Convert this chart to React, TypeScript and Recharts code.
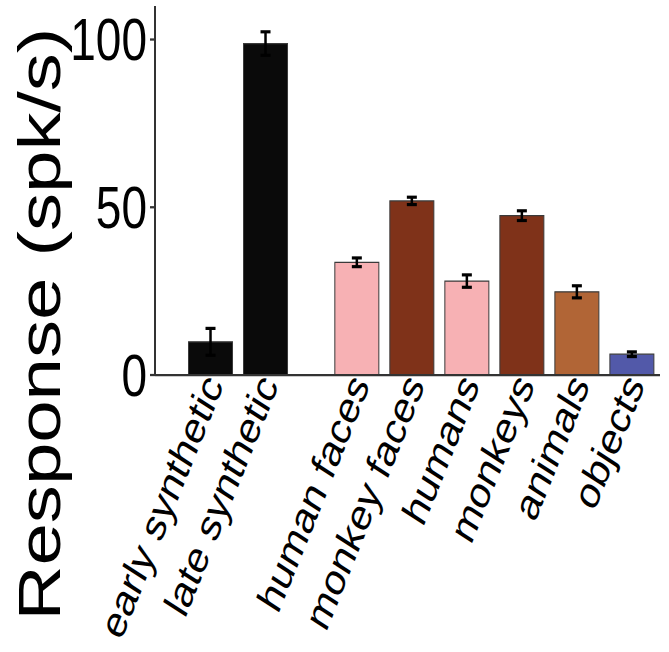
import { BarChart, Bar, XAxis, YAxis, Cell, ErrorBar } from 'recharts';

// two stimulus groups, drawn with a gap between them
const syntheticLabels = ['early synthetic', 'late synthetic'];
const syntheticResponse = [9.9, 98.8];
const syntheticError = [4.0, 3.5];

const naturalLabels = ['human faces', 'monkey faces', 'humans', 'monkeys', 'animals', 'objects'];
const naturalResponse = [33.6, 51.9, 28.0, 47.5, 24.8, 6.2];
const naturalError = [1.3, 1.1, 1.85, 1.45, 1.8, 0.7];

const yTicks = [0, 50, 100];

const syntheticColors = ['#0a0a0a', '#0a0a0a'];
const naturalColors = ['#f7b1b4', '#7f3219', '#f7b1b4', '#7f3219', '#b16536', '#5259a9'];

const GROUP_GAP = 0.66;
const STRETCH = 1.27; // the figure is taller than it is wide in its text
const FONT = '"Liberation Sans", Arial, Helvetica, sans-serif';

const rows = [
  ...syntheticLabels.map((name, i) => ({
    name,
    pos: i + 1,
    value: syntheticResponse[i],
    err: syntheticError[i],
    color: syntheticColors[i],
  })),
  ...naturalLabels.map((name, i) => ({
    name,
    pos: syntheticLabels.length + 1 + GROUP_GAP + i,
    value: naturalResponse[i],
    err: naturalError[i],
    color: naturalColors[i],
  })),
];

function XTick(props: any) {
  const { x, y, payload } = props;
  const row = rows.find((r) => r.pos === payload.value);
  return (
    <g transform={`translate(${x + 14},${y + 8})`}>
      <text transform="rotate(-63)" textAnchor="end" fontSize={35.5} fontFamily={FONT} fill="#000">
        {row ? row.name : ''}
      </text>
    </g>
  );
}

function YLabel(props: any) {
  const vb = props.viewBox || { x: 0, y: 0, width: 0, height: 0 };
  const cx = vb.x + 60;
  const cy = vb.y + vb.height - 40;
  return (
    <text
      transform={`translate(${cx},${cy}) rotate(-90)`}
      textAnchor="middle"
      fontSize={60}
      fontFamily={FONT}
      fill="#000"
    >
      Response (spk/s)
    </text>
  );
}

export default function App() {
  const height = 652 / STRETCH;
  return (
    <div style={{ position: 'absolute', left: 0, top: 0, width: 669, height: 652, background: '#fff', overflow: 'hidden' }}>
      <div style={{ width: 669, height, transform: `scaleY(${STRETCH})`, transformOrigin: 'top left' }}>
        <BarChart width={669} height={height} data={rows} margin={{ top: 4.7, right: 9, bottom: 0, left: 0 }}>
          <XAxis
            type="number"
            dataKey="pos"
            domain={[0, 9.18]}
            ticks={rows.map((r) => r.pos)}
            interval={0}
            height={height - 295.3}
            tick={(p: any) => <XTick {...p} />}
            tickLine={false}
            tickSize={0}
            tickMargin={0}
            axisLine={{ stroke: '#333', strokeWidth: 1.8 }}
          />
          <YAxis
            domain={[0, 110]}
            ticks={yTicks}
            width={155}
            tick={{ fontSize: 46, fill: '#000', fontFamily: FONT }}
            tickSize={5}
            tickMargin={3}
            tickLine={{ stroke: '#333', strokeWidth: 1.8 }}
            axisLine={{ stroke: '#333', strokeWidth: 2 }}
            label={{ value: 'Response (spk/s)', content: (p: any) => <YLabel {...p} /> }}
          />
          <Bar dataKey="value" barSize={44} stroke="#3a3a3a" strokeWidth={1} isAnimationActive={false}>
            {rows.map((r) => (
              <Cell key={r.name} fill={r.color} />
            ))}
            <ErrorBar dataKey="err" direction="y" width={5} stroke="#000" strokeWidth={2.5} isAnimationActive={false} />
          </Bar>
        </BarChart>
      </div>
    </div>
  );
}
